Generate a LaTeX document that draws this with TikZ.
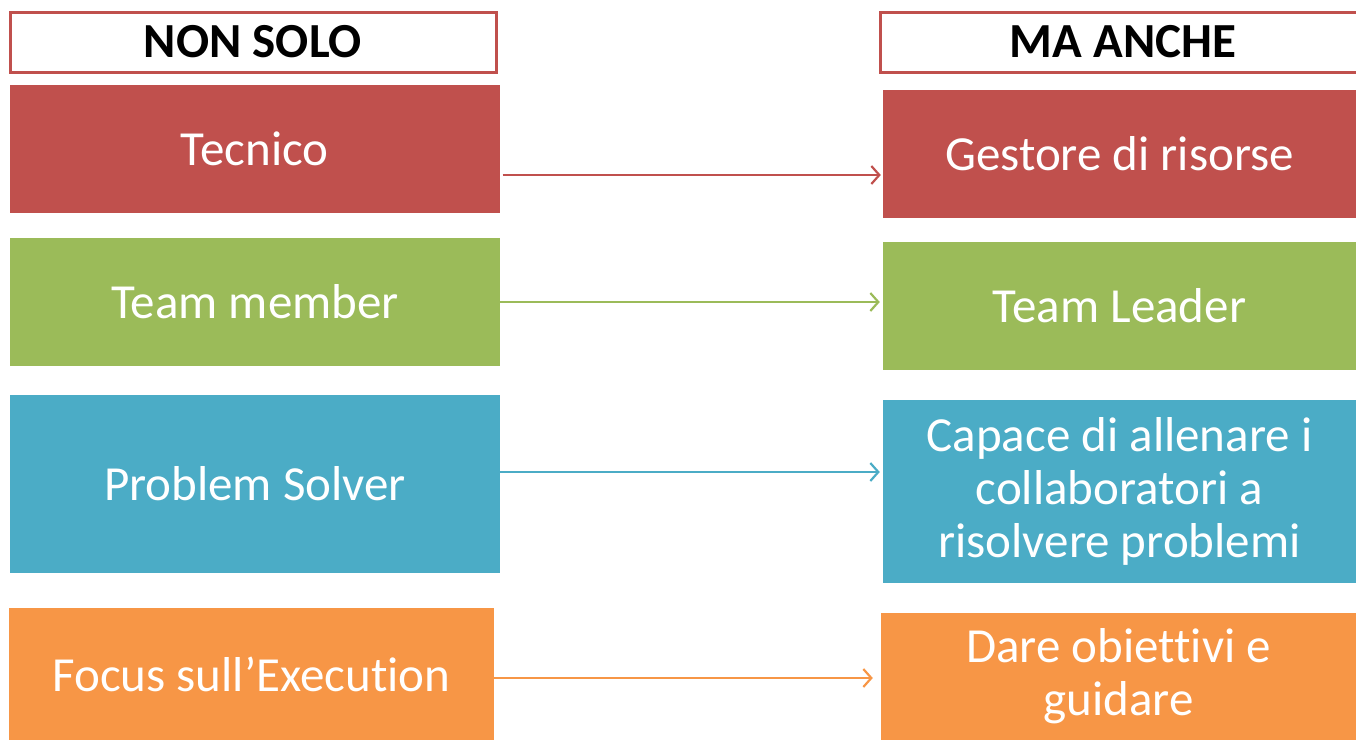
\documentclass[tikz,border=0pt]{standalone}
\usepackage{fontspec}
\setmainfont[Ligatures=CommonOff]{Carlito}
\usetikzlibrary{arrows.meta}
\definecolor{cred}{HTML}{C0504D}
\definecolor{cgreen}{HTML}{9BBB59}
\definecolor{cblue}{HTML}{4BACC6}
\definecolor{corange}{HTML}{F79646}
\tikzset{
  hdr/.style={draw=cred, line width=3pt, fill=white, inner sep=0pt, font=\fontsize{49}{52}\selectfont\bfseries, text=black},
  box/.style={inner sep=0pt, text=white, align=center, font=\fontsize{49}{53}\selectfont},
  arr/.style={line width=2.2pt, -{Straight Barb[length=8pt,width=18pt,line width=2.2pt]}},
}
\begin{document}
\begin{tikzpicture}[x=1pt,y=-1pt]
\useasboundingbox (0,0) rectangle (1356,740);
% headers
\node[hdr, minimum width=486pt, minimum height=60pt] (h1) at (253,42) {NON SOLO};
\node[hdr, minimum width=486pt, minimum height=60pt] (h2) at (1123,42) {MA ANCHE};
% left column
\node[box, fill=cred, minimum width=490pt, minimum height=128pt] (l1) at (254.5,149) {Tecnico};
\node[box, fill=cgreen, minimum width=490pt, minimum height=128pt] (l2) at (255,302) {Team member};
\node[box, fill=cblue, minimum width=490pt, minimum height=178pt] (l3) at (255,484) {Problem Solver};
\node[box, fill=corange, minimum width=485pt, minimum height=132pt] (l4) at (251.5,674) {Focus sull’Execution};
% right column
\node[box, fill=cred, minimum width=473pt, minimum height=128pt] (r1) at (1119.5,154) {Gestore di risorse};
\node[box, fill=cgreen, minimum width=473pt, minimum height=128pt] (r2) at (1119.5,306) {Team Leader};
\node[box, fill=cblue, minimum width=473pt, minimum height=183pt] (r3) at (1119.5,491.5) {Capace di allenare i\\collaboratori a\\risolvere problemi};
\node[box, fill=corange, minimum width=475pt, minimum height=127pt] (r4) at (1118.5,676.5) {Dare obiettivi e\\guidare};
% arrow rows
\coordinate (y1) at (0,175);
\coordinate (y2) at (0,302);
\coordinate (y3) at (0,472);
\coordinate (y4) at (0,678);
\draw[arr, cred] ([xshift=3pt]l1.east |- y1) -- ([xshift=-2pt]r1.west |- y1);
\draw[arr, cgreen] (l2.east |- y2) -- ([xshift=-3pt]r2.west |- y2);
\draw[arr, cblue] (l3.east |- y3) -- ([xshift=-3pt]r3.west |- y3);
\draw[arr, corange] (l4.east |- y4) -- ([xshift=-8pt]r4.west |- y4);
\end{tikzpicture}
\end{document}
